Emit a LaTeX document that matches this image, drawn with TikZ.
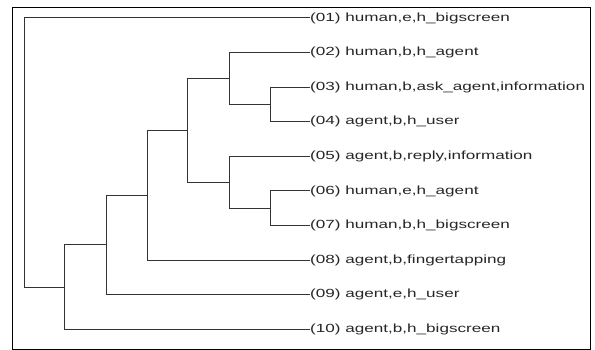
\documentclass[tikz,border=0pt]{standalone}
\usepackage{fontspec}
\setmainfont{Liberation Sans}
\usepackage{graphicx}
\begin{document}
\begin{tikzpicture}[x=1pt,y=-1pt,
  branch/.style={draw=black!80,line width=1pt},
  frame/.style={draw=black,line width=1pt},
  leaf/.style={anchor=west,inner sep=0pt,text=black!85,
    font=\fontsize{11.8}{13}\selectfont}]
\useasboundingbox (0,0) rectangle (595,350);
\draw[frame] (12.5,8) rectangle (590,349);

% leaf end points (label start) and labels
\foreach \i/\yy/\txt in {
  1/18/{(01) human,e,h\_bigscreen},
  2/52.6/{(02) human,b,h\_agent},
  3/87.2/{(03) human,b,ask\_agent,information},
  4/121.8/{(04) agent,b,h\_user},
  5/156.4/{(05) agent,b,reply,information},
  6/191/{(06) human,e,h\_agent},
  7/225.6/{(07) human,b,h\_bigscreen},
  8/260.2/{(08) agent,b,fingertapping},
  9/294.8/{(09) agent,e,h\_user},
  10/329.4/{(10) agent,b,h\_bigscreen}}{
  \coordinate (e\i) at (310,\yy);
  \node[leaf] (t\i) at (e\i) {\scalebox{1.45}[1]{\txt}};
}

% cluster junctions
\coordinate (j34)  at (270,104.5);
\coordinate (j234) at (229,78.5);
\coordinate (j67)  at (270,208.3);
\coordinate (j567) at (229,182.3);
\coordinate (j27)  at (187,130.4);
\coordinate (j28)  at (147,195.3);
\coordinate (j29)  at (106,245);
\coordinate (j210) at (64,287.2);
\coordinate (jroot) at (24.5,152.6);

% brackets
\draw[branch] (e3) -| (j34);   \draw[branch] (e4) -| (j34);
\draw[branch] (e2) -| (j234);  \draw[branch] (j34) -| (j234);
\draw[branch] (e6) -| (j67);   \draw[branch] (e7) -| (j67);
\draw[branch] (e5) -| (j567);  \draw[branch] (j67) -| (j567);
\draw[branch] (j234) -| (j27); \draw[branch] (j567) -| (j27);
\draw[branch] (j27) -| (j28);  \draw[branch] (e8) -| (j28);
\draw[branch] (j28) -| (j29);  \draw[branch] (e9) -| (j29);
\draw[branch] (j29) -| (j210); \draw[branch] (e10) -| (j210);
\draw[branch] (e1) -| (jroot); \draw[branch] (j210) -| (jroot);
\end{tikzpicture}
\end{document}
